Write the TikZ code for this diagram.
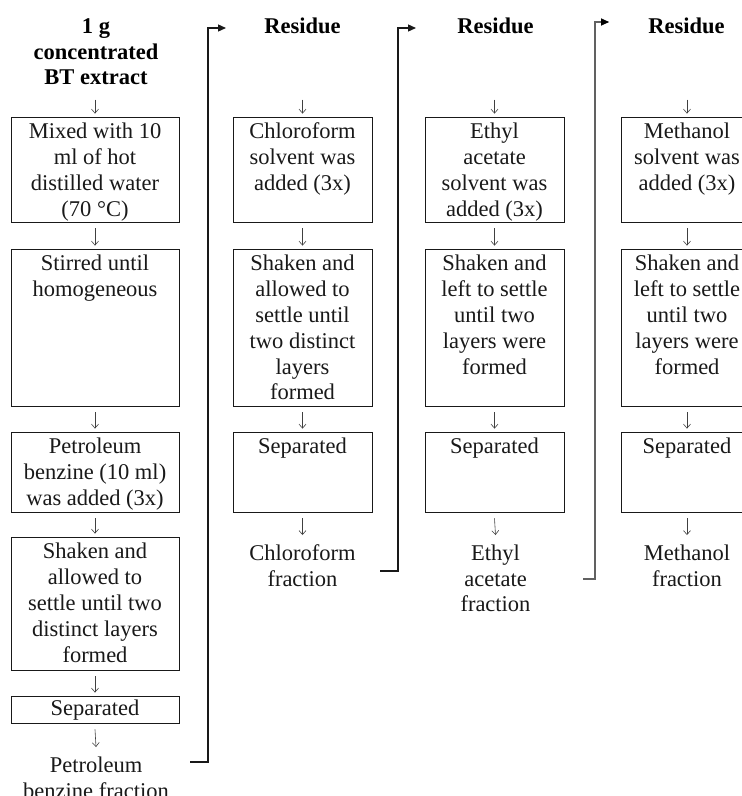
\documentclass[tikz,border=0pt]{standalone}
\usepackage{fontspec}
\setmainfont{Liberation Serif}
\usetikzlibrary{arrows.meta,fit}
\newcommand{\fsz}{\fontsize{22.5}{25.8}\selectfont}
\begin{document}
\begin{tikzpicture}[x=1pt,y=-1pt,
  box/.style={draw=black!90,line width=0.8pt,inner sep=0pt},
  txt/.style={font=\fsz,align=center,inner sep=0pt,anchor=north,text=black!90},
  ttl/.style={font=\fsz\bfseries,align=center,inner sep=0pt,anchor=north,text=black},
  garr/.style={draw=black!75,line width=0.6pt,-{Straight Barb[length=4pt,width=7pt]}},
  conn/.style={draw=black!90,line width=1.3pt,-{Triangle[length=8pt,width=7pt]}}]
\useasboundingbox (0,0) rectangle (742,796);
\clip (0,0) rectangle (742,796);
\fill[white] (0,0) rectangle (742,796);
% ---------- column 1 ----------
\node[ttl] (t1) at (96,15) {\strut 1 g\\concentrated\\BT extract};
\node[box,fit={(11,117) (179,222)}] (b11) {};
\node[box,fit={(11,249) (179,406)}] (b12) {};
\node[box,fit={(11,432) (179,512)}] (b13) {};
\node[box,fit={(11,537) (179,670)}] (b14) {};
\node[box,fit={(11,696) (179,723)}] (b15) {};
\node[txt] (l11) at ([yshift=-4pt]b11.north) {\strut Mixed with 10\\ml of hot\\distilled water\\(70 °C)};
\node[txt] (l12) at ([yshift=-4pt]b12.north) {\strut Stirred until\\homogeneous};
\node[txt] (l13) at ([yshift=-4pt]b13.north) {\strut Petroleum\\benzine (10 ml)\\was added (3x)};
\node[txt] (l14) at ([yshift=-4pt]b14.north) {\strut Shaken and\\allowed to\\settle until two\\distinct layers\\formed};
\node[txt] (l15) at ([yshift=-2pt]b15.north) {\strut Separated};
\node[txt] (f1) at (96,754) {\strut Petroleum\\benzine fraction};
\draw[garr] ([yshift=17pt]b11.north) -- ([yshift=3pt]b11.north);
\draw[garr] ([yshift=-6pt]b11.south) -- ([yshift=3pt]b12.north);
\draw[garr] ([yshift=-6pt]b12.south) -- ([yshift=3pt]b13.north);
\draw[garr] ([yshift=-6pt]b13.south) -- ([yshift=3pt]b14.north);
\draw[garr] ([yshift=-6pt]b14.south) -- ([yshift=3pt]b15.north);
\draw[garr] ([yshift=-6pt]b15.south) -- ([yshift=7pt]f1.north);
% ---------- column 2 ----------
\node[ttl] (t2) at (302.5,15) {\strut Residue};
\node[box,fit={(233,117) (372,222)}] (b21) {};
\node[box,fit={(233,249) (372,406)}] (b22) {};
\node[box,fit={(233,432) (372,512)}] (b23) {};
\node[txt] (l21) at ([yshift=-4pt]b21.north) {\strut Chloroform\\solvent was\\added (3x)};
\node[txt] (l22) at ([yshift=-4pt]b22.north) {\strut Shaken and\\allowed to\\settle until\\two distinct\\layers\\formed};
\node[txt] (l23) at ([yshift=-4pt]b23.north) {\strut Separated};
\node[txt] (f2) at (302.5,542) {\strut Chloroform\\fraction};
\draw[garr] ([yshift=17pt]b21.north) -- ([yshift=3pt]b21.north);
\draw[garr] ([yshift=-6pt]b21.south) -- ([yshift=3pt]b22.north);
\draw[garr] ([yshift=-6pt]b22.south) -- ([yshift=3pt]b23.north);
\draw[garr] ([yshift=-6pt]b23.south) -- ([yshift=7pt]f2.north);
% ---------- column 3 ----------
\node[ttl] (t3) at (495.5,15) {\strut Residue};
\node[box,fit={(425,117) (564,222)}] (b31) {};
\node[box,fit={(425,249) (564,406)}] (b32) {};
\node[box,fit={(425,432) (564,512)}] (b33) {};
\node[txt] (l31) at ([yshift=-4pt]b31.north) {\strut Ethyl\\acetate\\solvent was\\added (3x)};
\node[txt] (l32) at ([yshift=-4pt]b32.north) {\strut Shaken and\\left to settle\\until two\\layers were\\formed};
\node[txt] (l33) at ([yshift=-4pt]b33.north) {\strut Separated};
\node[txt] (f3) at (495.5,542) {\strut Ethyl\\acetate\\fraction};
\draw[garr] ([yshift=17pt]b31.north) -- ([yshift=3pt]b31.north);
\draw[garr] ([yshift=-6pt]b31.south) -- ([yshift=3pt]b32.north);
\draw[garr] ([yshift=-6pt]b32.south) -- ([yshift=3pt]b33.north);
\draw[garr] ([yshift=-6pt]b33.south) -- ([yshift=7pt]f3.north);
% ---------- column 4 ----------
\node[ttl] (t4) at (686.5,15) {\strut Residue};
\node[box,fit={(621,117) (753,222)}] (b41) {};
\node[box,fit={(621,249) (753,406)}] (b42) {};
\node[box,fit={(621,432) (753,512)}] (b43) {};
\node[txt] (l41) at ([yshift=-4pt]b41.north) {\strut Methanol\\solvent was\\added (3x)};
\node[txt] (l42) at ([yshift=-4pt]b42.north) {\strut Shaken and\\left to settle\\until two\\layers were\\formed};
\node[txt] (l43) at ([yshift=-4pt]b43.north) {\strut Separated};
\node[txt] (f4) at (687,542) {\strut Methanol\\fraction};
\draw[garr] ([yshift=17pt]b41.north) -- ([yshift=3pt]b41.north);
\draw[garr] ([yshift=-6pt]b41.south) -- ([yshift=3pt]b42.north);
\draw[garr] ([yshift=-6pt]b42.south) -- ([yshift=3pt]b43.north);
\draw[garr] ([yshift=-6pt]b43.south) -- ([yshift=7pt]f4.north);
% ---------- connectors ----------
\coordinate (c1s) at (190,762);
\coordinate (c1e) at (226,28);
\coordinate (c2s) at (380,571);
\coordinate (c2e) at (416,28);
\coordinate (c3s) at (583,579);
\coordinate (c3e) at (609,22);
\draw[conn] (c1s) -- ++(18,0) |- (c1e);
\draw[conn] (c2s) -- ++(18,0) |- (c2e);
\draw[conn,draw=black!62,line width=2pt] (c3s) -- ++(12,0) |- (c3e);
\fill[black] (c3e) -- ++(-8,-3.5) -- ++(0,7) -- cycle;
\end{tikzpicture}
\end{document}
